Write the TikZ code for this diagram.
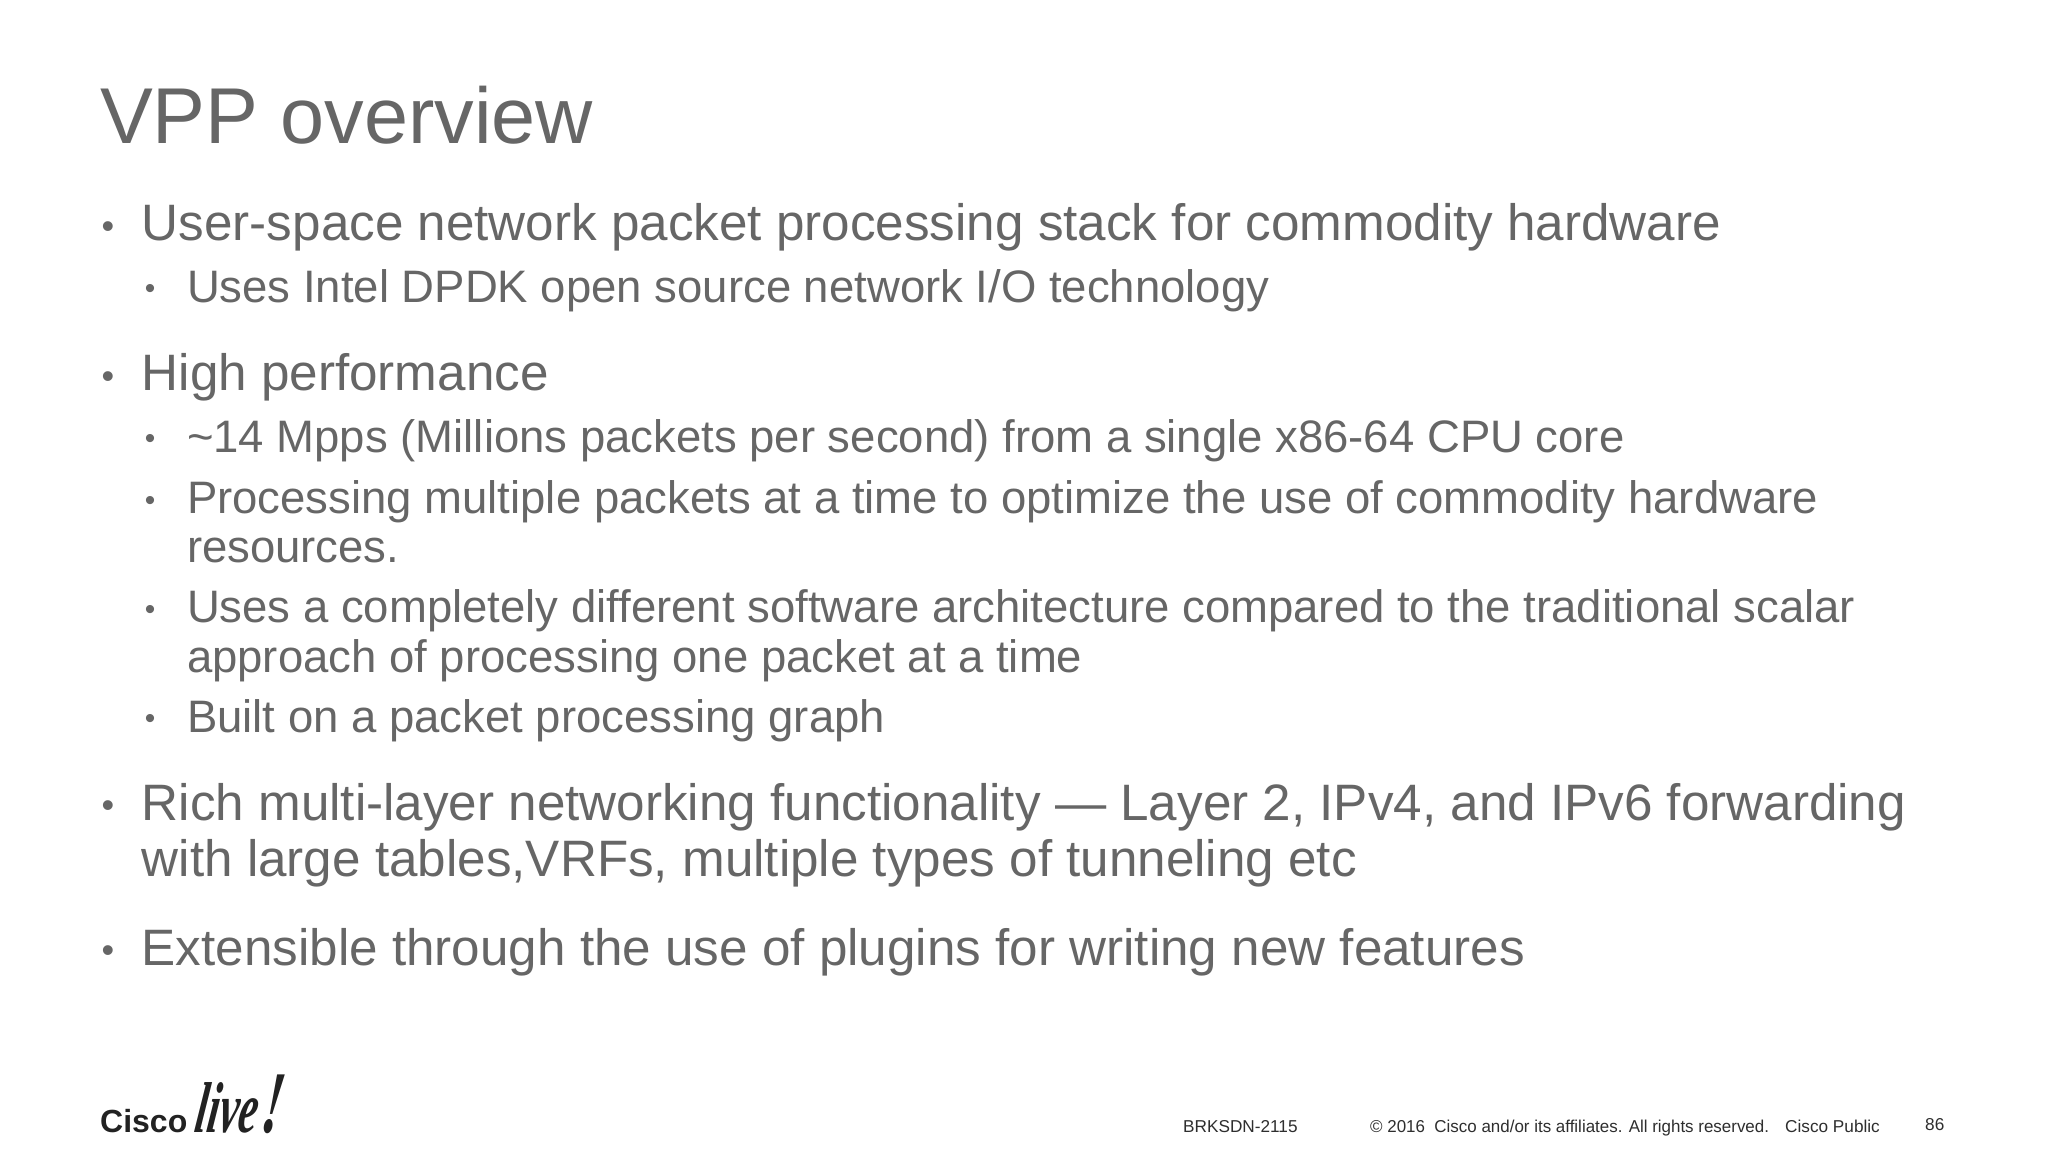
\documentclass[tikz,border=0pt]{standalone}
\usepackage{fontspec}
\setmainfont[Ligatures=NoCommon]{Liberation Sans}
\newfontfamily\logofont{Liberation Serif}
\definecolor{slidegray}{HTML}{666666}
\definecolor{footgray}{HTML}{2E2E2E}
\definecolor{logoblack}{HTML}{222222}
\tikzset{
  base/.style={anchor=base west,inner sep=0pt,outer sep=0pt,text=slidegray},
  titletext/.style={base,font=\fontsize{79.2}{79.2}\selectfont},
  one/.style={base,font=\fontsize{51.2}{51.2}\selectfont},
  two/.style={base,font=\fontsize{45.5}{45.5}\selectfont},
  bulone/.style={anchor=base,inner sep=0pt,text=slidegray,font=\fontsize{36}{36}\selectfont},
  bultwo/.style={anchor=base,inner sep=0pt,text=slidegray,font=\fontsize{30}{30}\selectfont},
  foot/.style={anchor=base west,inner sep=0pt,text=footgray,font=\fontsize{17.2}{17.2}\selectfont},
  logoscript/.style={anchor=base west,inner sep=0pt,text=logoblack,xscale=.6,xslant=.24},
}
\begin{document}
\begin{tikzpicture}[x=1pt,y=-1pt]
\useasboundingbox (0,0) rectangle (2048,1152);
\fill[white] (0,0) rectangle (2048,1152);
\node[titletext] (title) at (100,143) {VPP overview};
\node[bulone] (b1) at (108,238) {•};
\node[one] (t1) at (141.8,240) {User-space network packet processing stack for commodity hardware};
\node[bultwo] (b2) at (150,298) {•};
\node[two] (t2) at (187,302) {Uses Intel DPDK open source network I/O technology};
\node[bulone] (b3) at (108,388) {•};
\node[one] (t3) at (141.8,390) {High performance};
\node[bultwo] (b4) at (150,448) {•};
\node[two] (t4) at (187,452) {\textasciitilde14 Mpps (Millions packets per second) from a single x86-64 CPU core};
\node[bultwo] (b5) at (150,510) {•};
\node[two] (t5) at (187,513) {Processing multiple packets at a time to optimize the use of commodity hardware};
\node[two] (t5b) at (187,562) {resources.};
\node[bultwo] (b6) at (150,619) {•};
\node[two] (t6) at (187,622) {Uses a completely different software architecture compared to the traditional scalar};
\node[two] (t6b) at (187,672) {approach of processing one packet at a time};
\node[bultwo] (b7) at (150,728) {•};
\node[two] (t7) at (187,732) {Built on a packet processing graph};
\node[bulone] (b8) at (108,817) {•};
\node[one] (t8) at (141.8,820) {Rich multi-layer networking functionality — Layer 2, IPv4, and IPv6 forwarding};
\node[one] (t8b) at (141.8,876) {with large tables,VRFs, multiple types of tunneling etc};
\node[bulone] (b9) at (108,962) {•};
\node[one] (t9) at (141.8,965) {Extensible through the use of plugins for writing new features};
\node[anchor=base west,inner sep=0pt,text=logoblack,font=\fontsize{32}{32}\selectfont\bfseries] (cisco) at (100,1132) {Cisco};
\node[logoscript,font=\fontsize{72}{72}\logofont\itshape\bfseries\selectfont] (live) at (193,1132) {live\kern7pt{\fontsize{88}{88}\selectfont !}};
\node[foot] (f1) at (1183,1132) {BRKSDN-2115};
\node[foot,xscale=.985] (f2) at (1370,1132) {© 2016\ \ Cisco and/or its affiliates. All rights reserved.};
\node[foot] (f3) at (1785,1132) {Cisco Public};
\node[foot] (f4) at (1925,1130) {86};
\end{tikzpicture}
\end{document}
